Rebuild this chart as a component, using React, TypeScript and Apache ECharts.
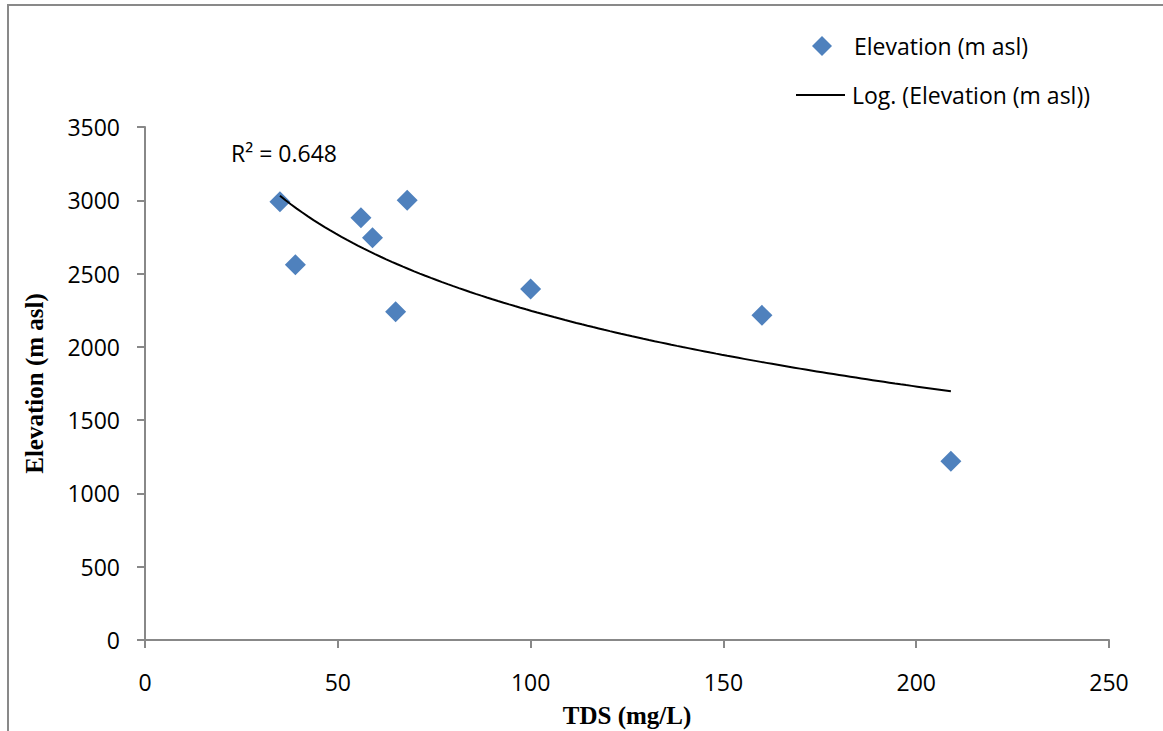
import React, { useEffect, useRef } from "react";
import * as echarts from "echarts";

const tds = [35, 39, 56, 59, 65, 68, 100, 160, 209];
const elevation = [2990, 2560, 2880, 2745, 2240, 3000, 2395, 2215, 1220];
const xTicks = [0, 50, 100, 150, 200, 250];
const yTicks = [0, 500, 1000, 1500, 2000, 2500, 3000, 3500];
const seriesName = "Elevation (m asl)";
const trendName = "Log. (Elevation (m asl))";
const r2Label = "R\u00b2 = 0.648";
const xTitle = "TDS (mg/L)";
const yTitle = "Elevation (m asl)";

function logFit(xs: number[], ys: number[]) {
  const lx = xs.map((v) => Math.log(v));
  const n = xs.length;
  const mx = lx.reduce((a, b) => a + b, 0) / n;
  const my = ys.reduce((a, b) => a + b, 0) / n;
  let sxy = 0;
  let sxx = 0;
  for (let i = 0; i < n; i++) {
    sxy += (lx[i] - mx) * (ys[i] - my);
    sxx += (lx[i] - mx) * (lx[i] - mx);
  }
  const a = sxy / sxx;
  const b = my - a * mx;
  return { a, b };
}

const FONT = "Open Sans";
const FS = 23;

export default function App() {
  const ref = useRef<HTMLDivElement>(null);
  useEffect(() => {
    document.body.style.margin = "0";
    if (!ref.current) return;
    const chart = echarts.init(ref.current, undefined, { renderer: "svg" });
    const { a, b } = logFit(tds, elevation);
    const xMin = Math.min(...tds);
    const xMax = Math.max(...tds);
    const trend: number[][] = [];
    const steps = 120;
    for (let i = 0; i <= steps; i++) {
      const x = xMin + ((xMax - xMin) * i) / steps;
      trend.push([x, a * Math.log(x) + b]);
    }
    const tickFont = { fontFamily: FONT, fontSize: FS, color: "#000" };
    chart.setOption({
      animation: false,
      backgroundColor: "#fff",
      grid: { left: 145, top: 127, right: 54, bottom: 91, outerBoundsMode: "none", containLabel: false },
      xAxis: {
        type: "value",
        min: xTicks[0],
        max: xTicks[xTicks.length - 1],
        interval: xTicks[1] - xTicks[0],
        axisLine: { show: true, lineStyle: { color: "#888", width: 2 } },
        axisTick: { show: true, length: 8, lineStyle: { color: "#888", width: 2 } },
        splitLine: { show: false },
        axisLabel: { ...tickFont, margin: 30, formatter: (v: number) => String(v) },
        name: xTitle,
        nameLocation: "middle",
        nameGap: 63,
        nameTextStyle: { fontFamily: "Liberation Serif", fontWeight: "bold", fontSize: 25, color: "#000" },
      },
      yAxis: {
        type: "value",
        min: yTicks[0],
        max: yTicks[yTicks.length - 1],
        interval: yTicks[1] - yTicks[0],
        axisLine: { show: true, lineStyle: { color: "#888", width: 2 } },
        axisTick: { show: true, length: 8, lineStyle: { color: "#888", width: 2 } },
        splitLine: { show: false },
        axisLabel: { ...tickFont, margin: 25, formatter: (v: number) => String(v) },
        name: yTitle,
        nameLocation: "middle",
        nameGap: 98,
        nameRotate: 90,
        nameTextStyle: { fontFamily: "Liberation Serif", fontWeight: "bold", fontSize: 25, color: "#000" },
      },
      series: [
        {
          name: trendName,
          type: "line",
          data: trend,
          showSymbol: false,
          smooth: false,
          lineStyle: { color: "#000", width: 2 },
          z: 3,
        },
        {
          name: seriesName,
          type: "scatter",
          data: tds.map((x, i) => [x, elevation[i]]),
          symbol: "diamond",
          symbolSize: 21,
          itemStyle: { color: "#4F81BD", opacity: 1 },
          z: 2,
        },
      ],
      graphic: [
        {
          type: "rect",
          shape: { x: 8, y: 5, width: 1200, height: 800 },
          style: { fill: "none", stroke: "#898989", lineWidth: 2 },
          silent: true,
        },
        {
          type: "polygon",
          shape: { points: [[822, 36], [832, 46], [822, 56], [812, 46]] },
          style: { fill: "#4F81BD" },
        },
        {
          type: "text",
          x: 854,
          y: 46,
          style: { text: seriesName, fontFamily: FONT, fontSize: FS, fill: "#000", verticalAlign: "middle" },
        },
        {
          type: "line",
          shape: { x1: 796, y1: 95, x2: 845, y2: 95 },
          style: { stroke: "#000", lineWidth: 2 },
        },
        {
          type: "text",
          x: 852,
          y: 95,
          style: { text: trendName, fontFamily: FONT, fontSize: FS, fill: "#000", verticalAlign: "middle" },
        },
        {
          type: "text",
          x: 231,
          y: 153,
          style: { text: r2Label, fontFamily: FONT, fontSize: FS, fill: "#000", verticalAlign: "middle" },
        },
      ],
    });
    return () => chart.dispose();
  }, []);
  return <div ref={ref} style={{ width: 1163, height: 731 }} />;
}
